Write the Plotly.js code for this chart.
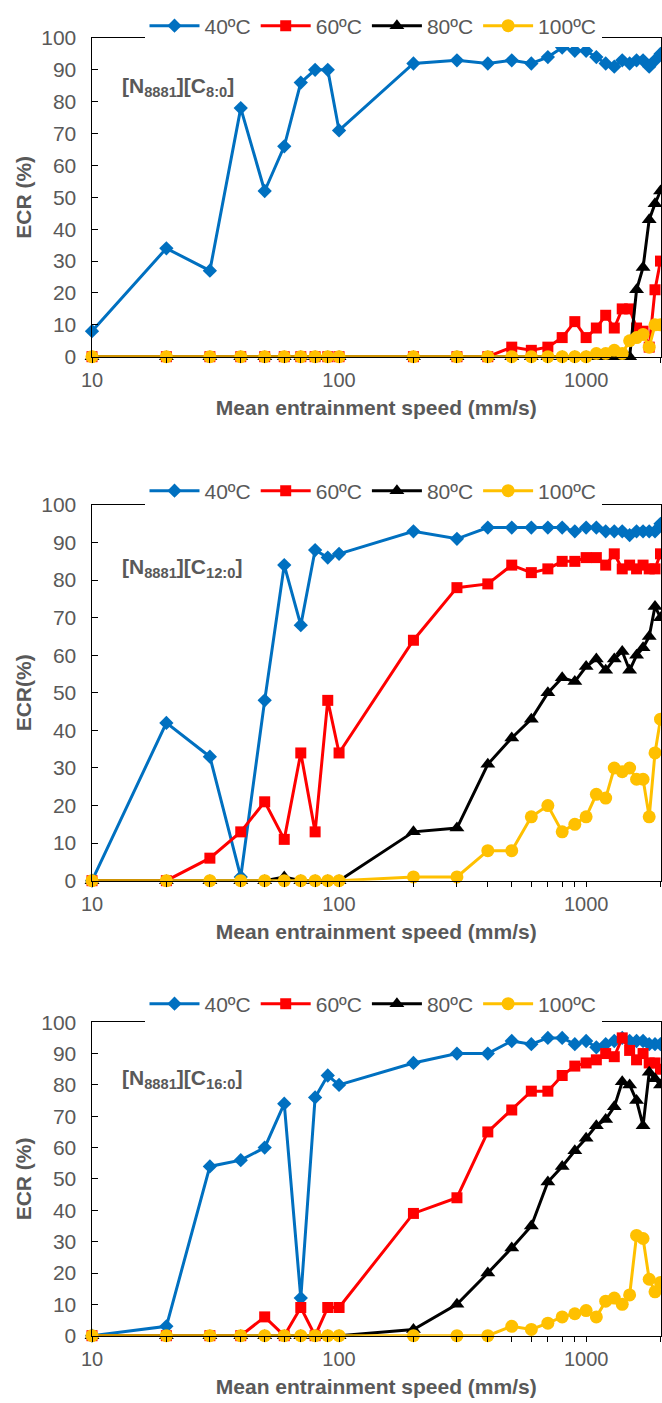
<!DOCTYPE html>
<html>
<head>
<meta charset="utf-8">
<script src="https://cdn.plot.ly/plotly-3.0.1.min.js"></script>
<style>html,body{margin:0;padding:0;background:#fff;}#chart{width:662px;height:1403px;}</style>
</head>
<body>
<div id="chart"></div>
<script>
// Mean entrainment speed (mm/s)
const speeds = [10,20,30,40,50,60,70,80,90,100,200,300,400,500,600,700,800,900,1000,1100,1200,1300,1400,1500,1600,1700,1800,1900,2000];
const seriesNames = ['40ºC','60ºC','80ºC','100ºC'];
const panelLabels = ['[N<sub>8881</sub>][C<sub>8:0</sub>]','[N<sub>8881</sub>][C<sub>12:0</sub>]','[N<sub>8881</sub>][C<sub>16:0</sub>]'];
const yTitles = ['ECR (%)','ECR(%)','ECR (%)'];
const xTickVals = [10,100,1000];
const xTickText = ['10','100','1000'];
const xMinorVals = [20,30,40,50,60,70,80,90,200,300,400,500,600,700,800,900,2000];

// [N8881][C8:0]
const c8_40  = [8,34,27,78,52,66,86,90,90,71,92,93,92,93,92,94,97,96,96,94,92,91,93,92,93,93,91,93,95];
const c8_60  = [0,0,0,0,0,0,0,0,0,0,0,0,0,3,2,3,6,11,6,9,13,9,15,15,9,8,3,21,30];
const c8_80  = [0,0,0,0,0,0,0,0,0,0,0,0,0,0,0,0,0,0,0,0,0,0,0,0,21,28,43,48,52];
const c8_100 = [0,0,0,0,0,0,0,0,0,0,0,0,0,0,0,0,0,0,0,1,1,2,1,5,6,7,3,10,10];

// [N8881][C12:0]
const c12_40  = [0,42,33,1,48,84,68,88,86,87,93,91,94,94,94,94,94,93,94,94,93,93,93,92,93,93,93,93,95];
const c12_60  = [0,0,6,13,21,11,34,13,48,34,64,78,79,84,82,83,85,85,86,86,84,87,83,84,83,84,83,83,87];
const c12_80  = [0,0,0,0,0,1,0,0,0,0,13,14,31,38,43,50,54,53,57,59,56,59,61,56,60,62,65,73,70];
const c12_100 = [0,0,0,0,0,0,0,0,0,0,1,1,8,8,17,20,13,15,17,23,22,30,29,30,27,27,17,34,43];

// [N8881][C16:0]
const c16_40  = [0,3,54,56,60,74,12,76,83,80,87,90,90,94,93,95,95,93,94,92,93,94,95,94,94,94,93,93,93];
const c16_60  = [0,0,0,0,6,0,9,0,9,9,39,44,65,72,78,78,83,86,87,88,90,89,95,91,88,90,87,87,85];
const c16_80  = [0,0,0,0,0,0,0,0,0,0,2,10,20,28,35,49,54,59,63,67,69,73,81,80,75,67,84,82,80];
const c16_100 = [0,0,0,0,0,0,0,0,0,0,0,0,0,3,2,4,6,7,8,6,11,12,10,13,32,31,18,14,17];

const panels = [[c8_40,c8_60,c8_80,c8_100],[c12_40,c12_60,c12_80,c12_100],[c16_40,c16_60,c16_80,c16_100]];

const W = 662, H = 1403;
const py = p => 1 - p / H;
const boxes = [
  {top: 38, bot: 356.7, legend: 26, label: 87},
  {top: 505, bot: 880.7, legend: 491, label: 568},
  {top: 1022.2, bot: 1335.7, legend: 1004, label: 1079}
];
const styles = [
  {color:'#0070C0', symbol:'diamond', size:11},
  {color:'#FF0000', symbol:'square', size:11},
  {color:'#000000', symbol:'triangle-up', size:13},
  {color:'#FFC000', symbol:'circle', size:13}
];
const gray = '#595959';
const fam = '"Liberation Sans", Arial, sans-serif';

const traces = [];
const layout = {
  width: W, height: H,
  margin: {l:0, r:0, t:0, b:0},
  paper_bgcolor: '#fff', plot_bgcolor: '#fff',
  font: {family: fam, color: gray},
  showlegend: true,
  annotations: []
};

panels.forEach((pdata, i) => {
  const n = i + 1;
  const xa = 'x' + (n === 1 ? '' : n), ya = 'y' + (n === 1 ? '' : n);
  const lg = 'legend' + (n === 1 ? '' : n);
  pdata.forEach((vals, j) => {
    traces.push({
      type: 'scatter', mode: 'lines+markers',
      x: speeds, y: vals, name: seriesNames[j],
      xaxis: xa, yaxis: ya, legend: lg,
      line: {color: styles[j].color, width: 3},
      marker: {color: styles[j].color, symbol: styles[j].symbol, size: styles[j].size, line: {width: 0}},
      cliponaxis: false, hoverinfo: 'skip'
    });
  });
  const b = boxes[i];
  layout['xaxis' + (n === 1 ? '' : n)] = {
    type: 'log', range: [1, Math.log10(2000)],
    domain: [92 / W, 660.5 / W], anchor: ya,
    showline: true, linecolor: '#000', linewidth: 1.5, mirror: true,
    tickmode: 'array', tickvals: xTickVals, ticktext: xTickText,
    ticks: 'outside', ticklen: 5, tickcolor: '#000', tickwidth: 1,
    minor: {tickmode: 'array', tickvals: xMinorVals, ticks: 'outside', ticklen: 5, tickcolor: '#000', tickwidth: 1, showgrid: false},
    tickfont: {size: 20, color: gray, family: fam},
    showgrid: false, zeroline: false, fixedrange: true,
    title: {text: 'Mean entrainment speed (mm/s)', font: {size: 21, color: gray, family: fam, weight: 'bold'}, standoff: 10}
  };
  layout['yaxis' + (n === 1 ? '' : n)] = {
    range: [0, 100], dtick: 10, tick0: 0,
    domain: [py(b.bot), py(b.top)], anchor: xa,
    showline: true, linecolor: '#000', linewidth: 1.5, mirror: true,
    ticks: 'inside', ticklen: 6, tickcolor: '#000', tickwidth: 1,
    ticklabelstandoff: 10,
    tickfont: {size: 21, color: gray, family: fam},
    showgrid: false, zeroline: false, fixedrange: true,
    title: {text: yTitles[i], font: {size: 21, color: gray, family: fam, weight: 'bold'}, standoff: 4}
  };
  layout[lg] = {
    orientation: 'h', x: 373 / W, xanchor: 'center', y: py(b.legend), yanchor: 'middle',
    bgcolor: '#fff', borderwidth: 0,
    font: {size: 21, color: gray, family: fam},
    itemwidth: 50, traceorder: 'normal', itemclick: false, itemdoubleclick: false
  };
  layout.annotations.push({
    text: panelLabels[i], xref: 'paper', yref: 'paper',
    x: 120 / W, xanchor: 'left', y: py(b.label), yanchor: 'middle',
    showarrow: false, font: {size: 21, color: gray, family: fam, weight: 'bold'}
  });
});

Plotly.newPlot('chart', traces, layout, {staticPlot: true, displayModeBar: false});
</script>
</body>
</html>
